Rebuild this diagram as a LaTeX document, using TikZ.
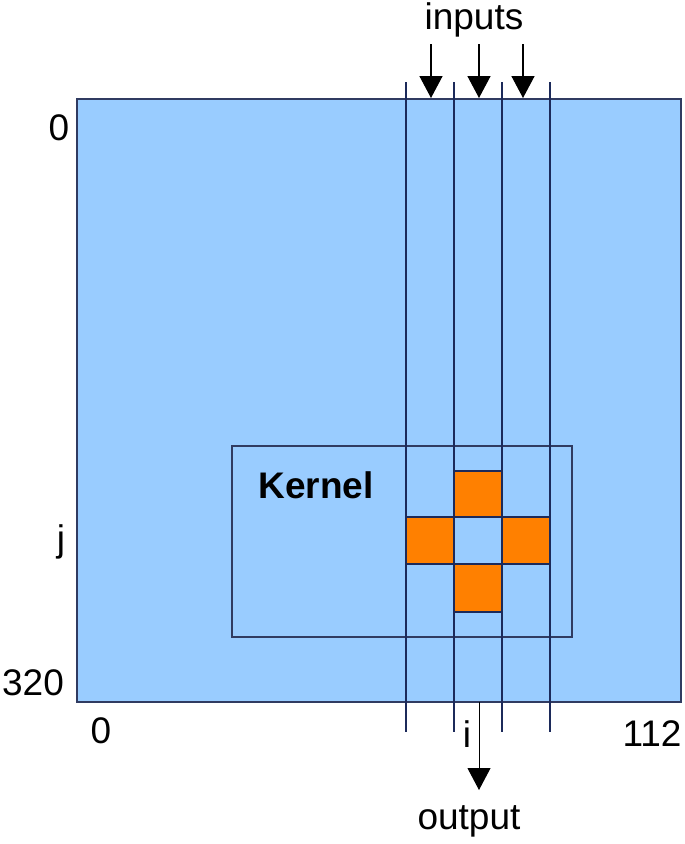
\documentclass[tikz,border=0pt]{standalone}
\usepackage{fontspec}
\setmainfont{Liberation Sans}
\usetikzlibrary{arrows.meta}
\definecolor{plane}{HTML}{99CCFF}
\definecolor{tap}{HTML}{FF8000}
\definecolor{wire}{HTML}{1C2A5A}
\begin{document}
\begin{tikzpicture}[
    x=1pt, y=-1pt,
    every node/.style={font=\fontsize{37}{42}\selectfont, inner sep=0pt, anchor=base},
    lbl/.style={text=black},
    frame/.style={draw=wire!80!gray, line width=1.3pt},
    cell/.style={fill=tap, draw=wire, line width=1.3pt},
    col/.style={draw=wire, line width=1.2pt},
    flow/.style={-{Triangle[width=23pt, length=22pt]}, line width=1.5pt, black}
]
    \useasboundingbox (0,0) rectangle (685,844);

    % image plane and kernel window
    \fill[plane] (77,99) rectangle (681,702);
    \draw[frame] (77,99) rectangle (681,702);
    \draw[frame] (232,446) rectangle (572,637);

    % stencil taps
    \draw[cell] (454,471) rectangle (502,517);
    \draw[cell] (406,517) rectangle (454,564);
    \draw[cell] (502,517) rectangle (550,564);
    \draw[cell] (454,564) rectangle (502,612);

    % columns
    \foreach \x in {406,454,502,550}
        \draw[col] (\x,82) -- (\x,732);

    % labels
    \node[lbl] (inputs) at (474,29)  {inputs};
    \node[lbl] (top0)   at (59,140)  {0};
    \node[lbl] (jrow)   at (61,551)  {j};
    \node[lbl] (rows)   at (33,695)  {320};
    \node[lbl] (left0)  at (101,743) {0};
    \node[lbl] (cols)   at (652,746) {112};
    \node[lbl] (icol)   at (467,747) {i};
    \node[lbl] (output) at (469,829) {output};
    \node[lbl, font=\fontsize{37}{42}\selectfont\bfseries] (kernel) at (316,498) {Kernel};

    % arrows
    \coordinate (a1) at (431,44);  \coordinate (b1) at (431,98);
    \coordinate (a2) at (479,44);  \coordinate (b2) at (479,98);
    \coordinate (a3) at (523,44);  \coordinate (b3) at (523,98);
    \coordinate (oa) at (479,702); \coordinate (ob) at (479,790);
    \draw[flow] (a1) -- (b1);
    \draw[flow] (a2) -- (b2);
    \draw[flow] (a3) -- (b3);
    \draw[flow, line width=1pt] (oa) -- (ob);
\end{tikzpicture}
\end{document}
